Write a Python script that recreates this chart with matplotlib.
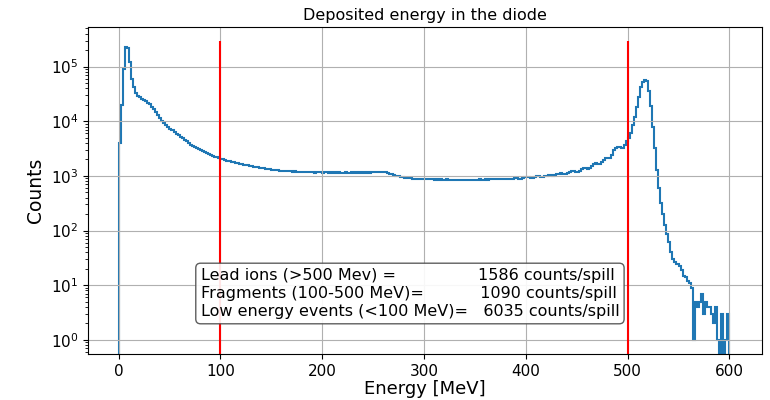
import numpy as np
import matplotlib.pyplot as plt

# histogram of deposited energy, 2 MeV bins from 0 to 602 MeV
bin_edges = list(range(0, 604, 2))
counts = [
    # 0 - 20
    4000, 20000, 90000, 230000, 220000, 120000, 60000, 42000, 33000, 29000,
    # 20 - 40
    27500, 26000, 24500, 23500, 22000, 20500, 18500, 16500, 14500, 12800,
    # 40 - 60
    11500, 10200, 9200, 8500, 7800, 7200, 6800, 6300, 5900, 5500,
    # 60 - 80
    5200, 4850, 4550, 4300, 4000, 3750, 3500, 3350, 3200, 3050,
    # 80 - 100
    2950, 2850, 2700, 2600, 2500, 2420, 2330, 2250, 2170, 2100,
    # 100 - 120
    2050, 2000, 1950, 1900, 1860, 1820, 1780, 1740, 1700, 1670,
    # 120 - 140
    1640, 1600, 1580, 1550, 1520, 1500, 1470, 1450, 1430, 1410,
    # 140 - 160
    1390, 1370, 1360, 1330, 1320, 1300, 1290, 1270, 1270, 1250,
    # 160 - 180
    1250, 1230, 1240, 1220, 1220, 1200, 1210, 1190, 1200, 1180,
    # 180 - 200
    1190, 1170, 1180, 1160, 1180, 1170, 1150, 1170, 1160, 1170,
    # 200 - 220
    1150, 1170, 1160, 1140, 1160, 1150, 1170, 1140, 1160, 1150,
    # 220 - 240
    1140, 1160, 1150, 1130, 1160, 1150, 1170, 1140, 1160, 1150,
    # 240 - 260
    1160, 1140, 1170, 1150, 1180, 1160, 1170, 1190, 1170, 1200,
    # 260 - 280
    1180, 1190, 1140, 1100, 1060, 1030, 1000, 980, 960, 945,
    # 280 - 300
    930, 915, 905, 900, 890, 885, 895, 880, 875, 885,
    # 300 - 320
    870, 880, 865, 860, 875, 855, 865, 850, 860, 855,
    # 320 - 340
    845, 860, 850, 840, 855, 845, 850, 838, 852, 845,
    # 340 - 360
    850, 842, 855, 848, 845, 858, 850, 862, 852, 858,
    # 360 - 380
    865, 855, 870, 860, 875, 865, 880, 870, 885, 875,
    # 380 - 400
    870, 880, 875, 890, 910, 905, 890, 895, 910, 935,
    # 400 - 420
    950, 935, 915, 920, 945, 975, 985, 960, 950, 975,
    # 420 - 440
    1010, 1050, 1040, 1010, 1020, 1060, 1100, 1120, 1080, 1075,
    # 440 - 460
    1110, 1170, 1220, 1250, 1200, 1190, 1240, 1320, 1400, 1390,
    # 460 - 480
    1360, 1420, 1530, 1640, 1700, 1630, 1640, 1780, 1950, 2100,
    # 480 - 500
    2150, 2100, 2400, 3000, 3200, 3350, 3400, 3300, 3600, 4300,
    # 500 - 520
    4900, 6200, 8500, 12000, 18000, 28000, 42000, 52000, 57000, 54000,
    # 520 - 540
    35000, 19000, 8000, 3200, 1300, 600, 320, 200, 125, 85,
    # 540 - 560
    62, 40, 30, 26, 24, 22, 19, 15, 14, 12,
    # 560 - 580
    11, 9, 1, 5, 4, 5, 7, 3, 5, 4,
    # 580 - 602
    4, 3, 2, 4, 1, 0, 3, 0, 1, 3, 0,
]

cut_lines = [100, 500]
summary = [
    ("Lead ions (>500 Mev) =", 16, 1586),
    ("Fragments (100-500 MeV)=", 11, 1090),
    ("Low energy events (<100 MeV)=", 3, 6035),
]

fig = plt.figure(figsize=(7.7, 4), dpi=100)
ax = fig.add_axes([0.1143, 0.115, 0.8753, 0.8175])

ax.stairs(counts, bin_edges, color='#1f77b4', linewidth=1.5)
ax.vlines(cut_lines, 0.01, 3e5, color='red', linewidth=1.5)

ax.set_yscale('log')
ax.set_xlim(-30, 632)
ax.set_ylim(0.55, 5.3e5)

ax.set_title('Deposited energy in the diode', fontsize=11.5, pad=5)
ax.set_xlabel('Energy [MeV]', fontsize=13, labelpad=1)
ax.set_ylabel('Counts', fontsize=13.5)
ax.tick_params(labelsize=11)
ax.grid(True)

txt = '\n'.join(f'{name}{" " * n}{val} counts/spill' for name, n, val in summary)
ax.text(0.167, 0.263, txt, transform=ax.transAxes, fontsize=11.5, va='top', ha='left',
        linespacing=1.25,
        bbox=dict(boxstyle='round', facecolor='white', edgecolor='0.3', alpha=0.9))

fig.savefig('out.png')
